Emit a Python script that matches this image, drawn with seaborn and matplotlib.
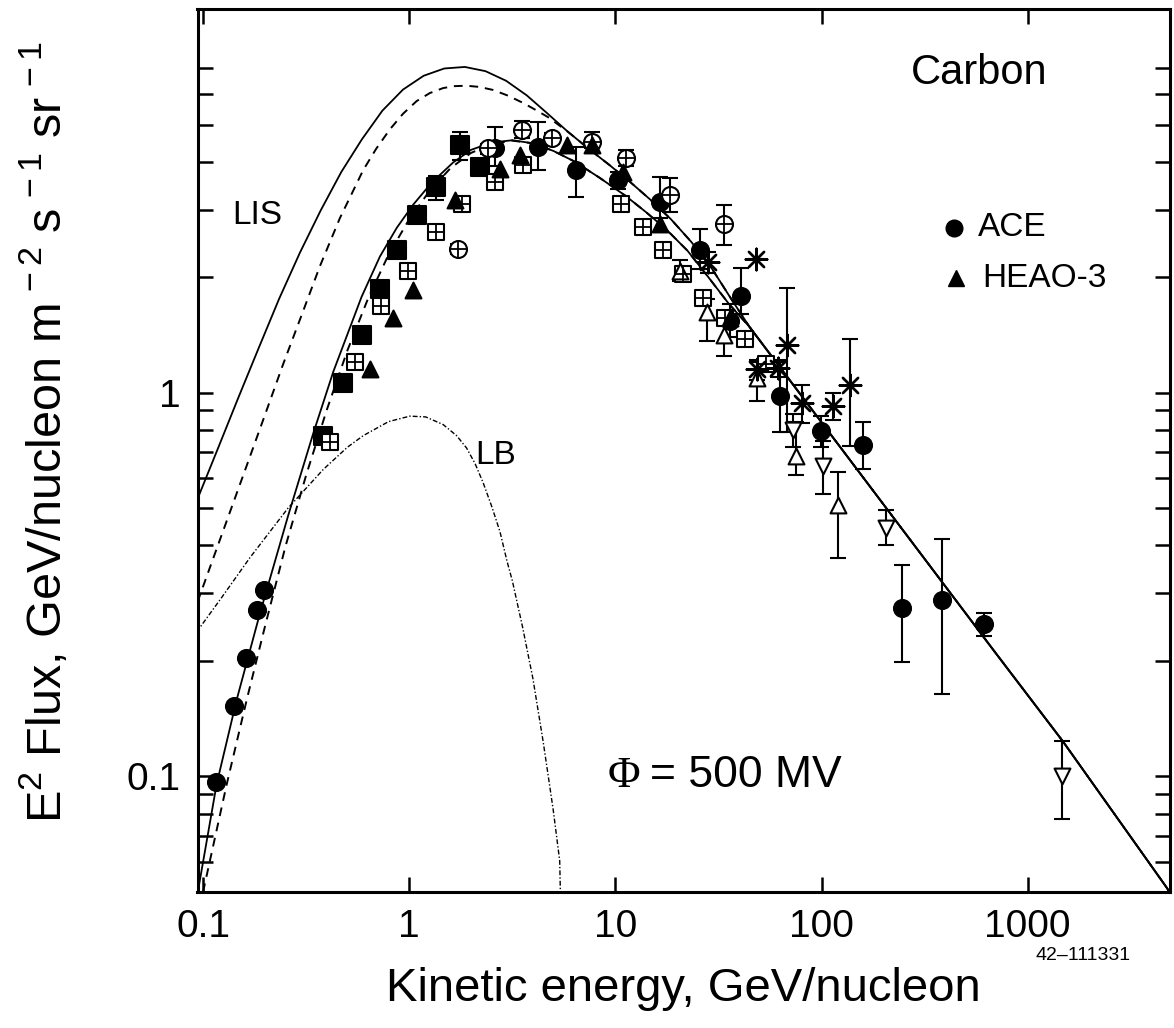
import numpy as np
import pandas as pd
import matplotlib
matplotlib.use("Agg")
import matplotlib.pyplot as plt
import seaborn as sns
from matplotlib.ticker import FixedLocator, FixedFormatter, NullLocator, NullFormatter

# ---------------- model curves (E in GeV/nucleon, E^2 flux) ----------------
lis_solid_E = [0.0931, 0.1175, 0.148, 0.186, 0.234, 0.295, 0.372, 0.468, 0.589, 0.741,
               0.933, 1.175, 1.479, 1.862, 2.344, 2.951, 3.715, 4.677, 5.888, 7.413,
               9.333, 11.75, 14.79, 18.62, 23.44, 29.51, 36.31, 44.67, 698, 1479, 4690, 5000]
lis_solid_F = [0.522, 0.711, 0.968, 1.306, 1.758, 2.317, 2.985, 3.758, 4.571, 5.433,
               6.166, 6.699, 6.998, 7.063, 6.887, 6.501, 5.957, 5.346, 4.786, 4.325,
               3.926, 3.548, 3.184, 2.831, 2.466, 2.099, 1.762, 1.486, 0.210, 0.1236, 0.0516, 0.049]

lis_dash_E = [0.094, 0.1233, 0.1629, 0.2037, 0.2449, 0.302, 0.369, 0.461, 0.598,
              0.692, 0.805, 0.933, 1.086, 1.259, 1.462, 1.660, 1.897, 2.188, 2.553,
              3.020, 3.573, 4.074, 4.721, 5.888, 7.413, 9.333, 11.75, 14.79, 18.62,
              23.44, 29.51, 36.31, 44.67, 698, 1479, 4690, 5000]
lis_dash_F = [0.285, 0.427, 0.646, 0.902, 1.189, 1.603, 2.138, 2.851, 3.802,
              4.325, 4.853, 5.333, 5.754, 6.039, 6.223, 6.295, 6.310, 6.266, 6.152,
              5.943, 5.689, 5.470, 5.224, 4.786, 4.325, 3.926, 3.548, 3.184, 2.831,
              2.466, 2.099, 1.762, 1.486, 0.210, 0.1236, 0.0516, 0.049]

mod_solid_E = [0.0944, 0.1164, 0.1456, 0.1888, 0.2588, 0.3428, 0.4285, 0.5875, 0.7211,
               0.8710, 1.045, 1.288, 1.633, 1.995, 2.512, 3.162, 3.981, 5.012, 6.310,
               8.395, 11.22, 14.13, 17.70, 22.39, 28.18, 35.48, 44.67, 698, 1479, 4690, 5000]
mod_solid_F = [0.0501, 0.0955, 0.1585, 0.2661, 0.4786, 0.7852, 1.135, 1.778, 2.265,
               2.692, 3.090, 3.532, 3.981, 4.295, 4.487, 4.550, 4.467, 4.266, 4.009,
               3.631, 3.258, 2.951, 2.661, 2.344, 2.004, 1.706, 1.486, 0.210, 0.1236, 0.0516, 0.049]

mod_dash_E = [0.100, 0.1303, 0.1629, 0.1995, 0.2512, 0.3162, 0.3981, 0.5012, 0.6310,
              0.7943, 1.000, 1.259, 1.585, 1.995, 2.512, 3.162, 3.981, 5.012, 6.310,
              8.395, 11.22, 14.13, 17.70, 22.39, 28.18, 35.48, 44.67, 698, 1479, 4690, 5000]
mod_dash_F = [0.050, 0.0955, 0.1585, 0.2455, 0.3981, 0.6095, 0.9016, 1.288, 1.758,
              2.291, 2.831, 3.365, 3.846, 4.217, 4.446, 4.539, 4.467, 4.266, 4.009,
              3.631, 3.258, 2.951, 2.661, 2.344, 2.004, 1.706, 1.486, 0.210, 0.1236, 0.0516, 0.049]

lb_E = [0.0931, 0.1233, 0.1690, 0.2588, 0.3828, 0.5012, 0.5984, 0.7943, 1.007, 1.202,
        1.462, 1.698, 1.897, 2.089, 2.286, 2.512, 2.754, 2.985, 3.162, 3.548, 3.981,
        4.467, 4.989, 5.370, 5.410]
lb_F = [0.238, 0.293, 0.372, 0.501, 0.631, 0.721, 0.773, 0.841, 0.869, 0.865,
        0.826, 0.773, 0.718, 0.653, 0.582, 0.506, 0.435, 0.363, 0.324, 0.245, 0.180,
        0.123, 0.0822, 0.0603, 0.050]

# ---------------- data points ----------------
ace_E = [0.115, 0.142, 0.161, 0.183, 0.198]
ace_F = [0.097, 0.153, 0.203, 0.272, 0.307]

circ_E = [2.6, 4.22, 6.47, 10.3, 16.4, 25.6, 35.9, 40.8, 63.1, 99.5, 159, 247, 386, 611]
circ_F = [4.33, 4.38, 3.81, 3.58, 3.14, 2.35, 1.54, 1.79, 0.98, 0.795, 0.733, 0.274, 0.288, 0.249]
circ_lo = [3.9, 3.8, 3.24, 3.40, 2.85, 2.10, 1.40, 1.60, 0.79, 0.72, 0.634, 0.199, 0.164, 0.233]
circ_hi = [4.94, 5.09, 4.38, 3.75, 3.65, 2.67, 1.70, 2.12, 1.20, 0.87, 0.838, 0.356, 0.415, 0.266]

sq_E = [0.383, 0.479, 0.590, 0.718, 0.871, 1.086, 1.35, 1.76, 2.20]
sq_F = [0.77, 1.06, 1.41, 1.86, 2.35, 2.91, 3.44, 4.41, 3.88]
sq_lo = [0.74, 1.02, 1.36, 1.78, 2.26, 2.80, 3.18, 4.04, 3.70]
sq_hi = [0.80, 1.10, 1.46, 1.94, 2.44, 3.02, 3.68, 4.79, 4.06]

grid_E = [0.413, 0.546, 0.726, 0.99, 1.35, 1.80, 2.60, 3.57, 10.7, 13.6, 17.0, 21.3,
          26.6, 33.9, 42.4, 53.6]
grid_F = [0.744, 1.2, 1.68, 2.07, 2.62, 3.11, 3.55, 3.92, 3.11, 2.70, 2.35, 2.04,
          1.77, 1.57, 1.38, 1.19]

oplus_E = [1.73, 2.41, 3.51, 4.90, 7.66, 11.3, 18.4, 33.5]
oplus_F = [2.37, 4.33, 4.84, 4.60, 4.51, 4.08, 3.27, 2.76]
oplus_lo = [2.30, 4.20, 4.60, 4.45, 4.35, 3.90, 2.96, 2.42]
oplus_hi = [2.44, 4.46, 5.10, 4.75, 4.79, 4.30, 3.62, 3.08]

heao_E = [0.646, 0.836, 1.045, 1.66, 2.75, 3.44, 5.80, 7.66, 10.9, 16.4, 35.9]
heao_F = [1.15, 1.57, 1.85, 3.17, 3.84, 4.17, 4.42, 4.42, 3.77, 2.76, 1.57]

tup_E = [20.5, 27.7, 33.5, 48.4, 74.8, 120]
tup_F = [2.08, 1.62, 1.41, 1.09, 0.684, 0.51]
tup_lo = [1.95, 1.36, 1.25, 0.95, 0.61, 0.37]
tup_hi = [2.22, 1.75, 1.55, 1.20, 0.84, 0.62]

tdn_E = [72.8, 101.6, 206, 1462]
tdn_F = [0.80, 0.643, 0.444, 0.100]
tdn_lo = [0.72, 0.546, 0.40, 0.0776]
tdn_hi = [0.88, 0.747, 0.494, 0.124]

ast_E = [28.1, 48.3, 48.4, 61.8, 68.0, 80.5, 114, 138]
ast_F = [2.19, 2.23, 1.15, 1.16, 1.33, 0.94, 0.923, 1.05]
ast_lo = [2.05, 2.23, 1.08, 1.10, 0.79, 0.835, 0.85, 0.727]
ast_hi = [2.33, 2.23, 1.22, 1.22, 1.88, 1.05, 1.00, 1.38]

x_ticks = [0.1, 1, 10, 100, 1000]
x_tick_labels = ["0.1", "1", "10", "100", "1000"]
y_ticks = [0.1, 1]
y_tick_labels = ["0.1", "1"]
y_minor = [0.06, 0.07, 0.08, 0.09, 0.2, 0.3, 0.4, 0.5, 0.6, 0.7, 0.8, 0.9,
           2, 3, 4, 5, 6, 7]

# ---------------- style ----------------
sns.set_theme(style="ticks")
plt.rcParams["font.family"] = ["Liberation Sans", "DejaVu Sans"]
plt.rcParams["mathtext.fontset"] = "custom"
plt.rcParams["mathtext.rm"] = "Liberation Sans"
plt.rcParams["mathtext.it"] = "Liberation Sans:italic"
plt.rcParams["mathtext.bf"] = "Liberation Sans:bold"

W, H = 1174, 1028
fig = plt.figure(figsize=(W / 100, H / 100), dpi=100)
fig.patch.set_facecolor("white")
L, R, T, B = 197.5, 1170, 9, 892
ax = fig.add_axes([L / W, (H - B) / H, (R - L) / W, (B - T) / H])
ax.set_facecolor("white")
ax.set_xscale("log")
ax.set_yscale("log")

K = "black"
def curve(xs, ys, ls, lw):
    sns.lineplot(x=xs, y=ys, ax=ax, color=K, linewidth=lw, linestyle=ls,
                 estimator=None, sort=False, legend=False)

curve(lis_solid_E, lis_solid_F, "-", 1.3)
curve(lis_dash_E, lis_dash_F, (0, (4.5, 3.5)), 1.4)
curve(mod_solid_E, mod_solid_F, "-", 1.3)
curve(mod_dash_E, mod_dash_F, (0, (4.5, 3.5)), 1.4)
curve(lb_E, lb_F, (0, (3.5, 1.5, 1, 1.5)), 1.0)

def ebar(xs, ys, lo, hi):
    ys = np.asarray(ys); lo = np.asarray(lo); hi = np.asarray(hi)
    ax.errorbar(xs, ys, yerr=[ys - lo, hi - ys], fmt="none", ecolor=K,
                elinewidth=1.5, capsize=5.5, capthick=1.5, zorder=3)

ebar(circ_E, circ_F, circ_lo, circ_hi)
ebar(sq_E, sq_F, sq_lo, sq_hi)
ebar(oplus_E, oplus_F, oplus_lo, oplus_hi)
ebar(tup_E, tup_F, tup_lo, tup_hi)
ebar(tdn_E, tdn_F, tdn_lo, tdn_hi)
ebar(ast_E, ast_F, ast_lo, ast_hi)

def pts(xs, ys, marker, s, fc, lw=1.5, z=4):
    sns.scatterplot(x=xs, y=ys, ax=ax, marker=marker, s=s, color=fc,
                    edgecolor=K, linewidth=lw, zorder=z, legend=False)

pts(ace_E, ace_F, "o", 150, K)
pts(circ_E, circ_F, "o", 150, K)
pts(sq_E, sq_F, "s", 150, K)
pts(grid_E, grid_F, "s", 140, "white")
pts(grid_E, grid_F, "+", 140, K, lw=1.3, z=5)
pts(oplus_E, oplus_F, "o", 150, "white")
pts(oplus_E, oplus_F, "+", 150, K, lw=1.3, z=5)
pts(heao_E, heao_F, "^", 130, K)
pts(tup_E, tup_F, "^", 130, "white")
pts(tdn_E, tdn_F, "v", 130, "white")
pts(ast_E, ast_F, (8, 2, 0), 240, K, lw=1.7)

ax.set_xlim(0.094, 4900)
ax.set_ylim(0.05, 10)

ax.xaxis.set_major_locator(FixedLocator(x_ticks))
ax.xaxis.set_major_formatter(FixedFormatter(x_tick_labels))
ax.xaxis.set_minor_locator(NullLocator())
ax.yaxis.set_major_locator(FixedLocator(y_ticks))
ax.yaxis.set_major_formatter(FixedFormatter(y_tick_labels))
ax.yaxis.set_minor_locator(FixedLocator(y_minor))
ax.yaxis.set_minor_formatter(NullFormatter())

ax.tick_params(which="both", direction="in", top=True, right=True, bottom=True,
               left=True, length=11, width=1.8, color=K)
ax.tick_params(which="major", labelsize=28, pad=12, labelcolor=K)
for sp in ax.spines.values():
    sp.set_visible(True)
    sp.set_linewidth(2.2)
    sp.set_color(K)

ax.set_xlabel("Kinetic energy, GeV/nucleon", fontsize=34, color=K, labelpad=16)
fig.text(45 / W, 1 - 432 / H,
         r"E$^{2}$ Flux, GeV/nucleon m$^{\,-2}$ s$^{\,-1}$ sr$^{\,-1}$",
         rotation=90, ha="center", va="center", fontsize=35, color=K)

ax.text(0.8036, 0.9275, "Carbon", transform=ax.transAxes, ha="center",
        va="center", fontsize=30, color=K)
ax.text(0.0355, 0.7667, "LIS", transform=ax.transAxes, ha="left",
        va="center", fontsize=24, color=K)
ax.text(0.2853, 0.4949, "LB", transform=ax.transAxes, ha="left",
        va="center", fontsize=24, color=K)
ax.text(0.4221, 0.1314, "\u03a6", transform=ax.transAxes, ha="left", va="center",
        fontsize=32, color=K, family=["Liberation Serif", "DejaVu Serif"])
ax.text(0.4653, 0.1314, "= 500 MV", transform=ax.transAxes, ha="left",
        va="center", fontsize=32, color=K)

# legend entries
ax.plot([0.778], [0.752], marker="o", ms=12, color=K, transform=ax.transAxes,
        linestyle="none")
ax.text(0.8026, 0.752, "ACE", transform=ax.transAxes, ha="left", va="center",
        fontsize=24, color=K)
ax.plot([0.780], [0.695], marker="^", ms=12, color=K, transform=ax.transAxes,
        linestyle="none")
ax.text(0.807, 0.695, "HEAO-3", transform=ax.transAxes, ha="left", va="center",
        fontsize=24, color=K)

fig.text(1036 / W, 1 - 947 / H, "42\u2013111331", ha="left", va="top",
         fontsize=14, color=K)

fig.savefig("out.png", dpi=100, facecolor="white")
